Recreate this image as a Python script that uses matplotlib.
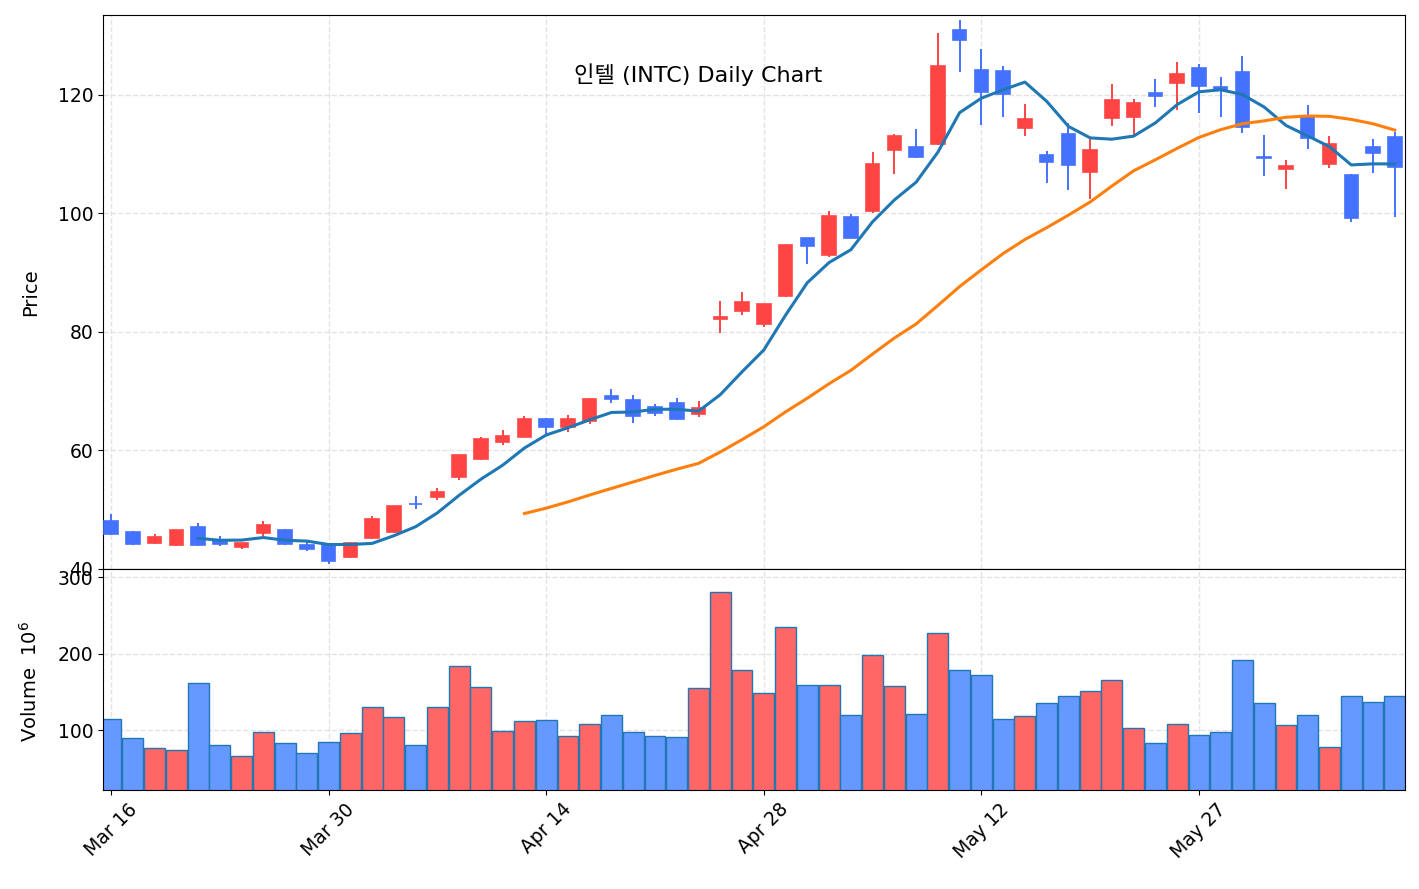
import pandas as pd
import matplotlib
matplotlib.use("Agg")
import matplotlib.pyplot as plt

# trading days (NYSE 2020, Good Friday and Memorial Day closed)
dates = pd.bdate_range("2020-03-16", "2020-06-09")
dates = dates[~dates.isin(pd.to_datetime(["2020-04-10", "2020-05-25"]))]

opens = [48.15, 46.3, 44.35, 44.1, 47.1, 44.9, 43.7, 46.0, 46.5, 44.0,
         44.2, 42.1, 45.2, 46.2, 51.0, 52.1, 55.5, 58.5, 61.5, 62.3,
         65.4, 63.9, 64.9, 69.2, 68.6, 67.4, 68.1, 66.2, 82.2, 83.6,
         81.3, 86.1, 95.8, 93.0, 99.4, 100.5, 110.8, 111.2, 111.7, 130.9,
         124.3, 124.1, 114.5, 109.8, 113.5, 107.0, 116.1, 116.3, 120.4, 122.0,
         124.5, 121.4, 123.8, 109.5, 107.5, 116.3, 108.4, 106.5, 111.2, 112.9]
highs = [49.3, 46.4, 45.9, 46.5, 47.7, 45.6, 44.4, 48.1, 46.8, 44.5,
         44.3, 44.5, 49.0, 50.7, 52.4, 53.6, 59.2, 62.3, 63.5, 65.8,
         65.5, 66.0, 68.8, 70.3, 69.3, 67.8, 68.8, 68.3, 85.2, 86.8,
         84.7, 94.8, 95.8, 100.4, 99.9, 110.4, 113.4, 114.3, 130.4, 132.7,
         127.7, 124.9, 118.5, 110.5, 115.3, 112.5, 121.9, 119.3, 122.7, 125.5,
         125.2, 123.0, 126.6, 113.2, 109.0, 118.3, 113.1, 106.6, 112.6, 113.8]
lows = [45.8, 44.1, 44.3, 43.9, 43.95, 43.9, 43.4, 45.6, 44.1, 43.1,
        40.8, 41.9, 45.1, 46.0, 50.1, 51.6, 55.1, 58.4, 61.0, 62.2,
        62.8, 63.1, 64.5, 68.0, 64.7, 65.9, 65.2, 65.6, 79.8, 82.8,
        80.9, 85.9, 91.5, 92.7, 95.8, 100.1, 106.6, 109.4, 111.6, 123.9,
        115.0, 116.3, 113.1, 105.1, 103.9, 102.4, 114.8, 113.2, 118.0, 117.4,
        117.0, 116.3, 113.6, 106.4, 104.2, 110.9, 107.6, 98.6, 106.8, 99.4]
closes = [45.86, 44.2, 45.35, 46.5, 44.0, 44.2, 44.35, 47.5, 44.2, 43.3,
          41.3, 44.4, 48.4, 50.7, 50.9, 53.0, 59.2, 62.0, 62.5, 65.4,
          64.0, 65.3, 68.7, 68.7, 65.8, 66.3, 65.3, 67.1, 82.6, 85.1,
          84.7, 94.7, 94.5, 99.6, 95.9, 108.3, 113.1, 109.5, 124.9, 129.3,
          120.5, 120.2, 116.0, 108.7, 108.1, 110.8, 119.1, 118.6, 119.9, 123.5,
          121.6, 120.8, 114.6, 109.3, 108.0, 112.7, 111.8, 99.2, 110.2, 107.9]
# volume in millions
volumes = [114, 89, 77, 73.5, 162, 80.5, 66, 97, 83, 70,
           84.5, 96, 130, 117, 80.5, 130, 184, 156, 98.5, 111.5,
           112.5, 92, 107.5, 119, 97, 92, 90.5, 155, 281, 178,
           148, 235, 159.5, 158.5, 119, 197.5, 157, 121.5, 227, 179,
           172.5, 115, 118, 135, 145, 150.5, 165, 102, 82.5, 107.5,
           93, 97, 191, 135, 106, 119, 77.5, 145, 136, 145]

df = pd.DataFrame({"Open": opens, "High": highs, "Low": lows,
                   "Close": closes, "Volume": volumes}, index=dates)
df["MA5"] = df["Close"].rolling(5).mean()
df["MA20"] = df["Close"].rolling(20).mean()

x = list(range(len(df)))
up = df["Close"] >= df["Open"]
candle_colors = ["#ff4444" if u else "#4472ff" for u in up]
vol_colors = ["#ff6666" if u else "#6699ff" for u in up]

fig = plt.figure(figsize=(14.19, 8.89), dpi=100)
ax = fig.add_axes([103 / 1419, 320 / 889, 1302 / 1419, 554 / 889])
axv = fig.add_axes([103 / 1419, 99 / 889, 1302 / 1419, 221 / 889], sharex=ax)

# candles
bottoms = df[["Open", "Close"]].min(axis=1)
heights = (df["Close"] - df["Open"]).abs().clip(lower=0.15)
ax.vlines(x, df["Low"], df["High"], colors=candle_colors, linewidth=1.4, zorder=2)
ax.bar(x, heights, bottom=bottoms, width=0.62, color=candle_colors,
       edgecolor=candle_colors, linewidth=1.2, zorder=3)

# moving averages
ax.plot(x, df["MA5"], color="#1f77b4", linewidth=2.2, zorder=4)
ax.plot(x, df["MA20"], color="#ff7f0e", linewidth=2.2, zorder=4)

ax.set_ylim(40, 133.5)
ax.set_ylabel("Price", fontsize=14)
ax.yaxis.set_label_coords(-0.048, 0.5)
ax.grid(True, linestyle="--", color="#dddddd", linewidth=1, alpha=0.8)
ax.set_axisbelow(True)
ax.tick_params(labelsize=13.5, labelbottom=False)

# volume
axv.bar(x, df["Volume"], width=0.96, color=vol_colors,
        edgecolor="#1f77b4", linewidth=1)
axv.set_ylim(21.6, 310.5)
axv.set_yticks([100, 200, 300])
axv.set_ylabel("Volume  $10^{6}$", fontsize=14)
axv.yaxis.set_label_coords(-0.048, 0.49)
axv.grid(True, linestyle="--", color="#dddddd", linewidth=1, alpha=0.8)
axv.set_axisbelow(True)
axv.tick_params(labelsize=13.5)

tick_pos = list(range(0, len(df), 10))
axv.set_xticks(tick_pos)
axv.set_xticklabels([dates[i].strftime("%b %d") for i in tick_pos], rotation=45)
axv.set_xlim(-0.37, 59.47)

fig.text(822 / 1419, 1 - 75 / 889, "인텔 (INTC) Daily Chart", fontsize=16,
         ha="right", va="center", family=["DejaVu Sans", "Noto Sans CJK KR"])

fig.savefig("out.png", dpi=100)
